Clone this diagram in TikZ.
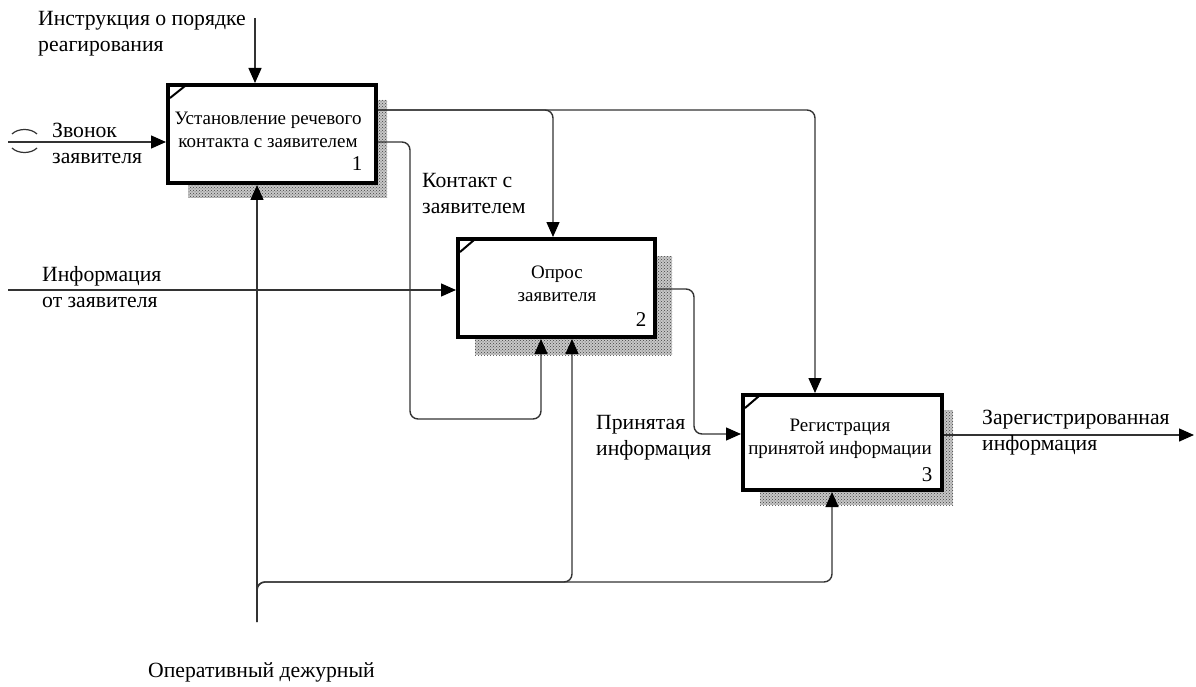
\documentclass[tikz,border=0pt]{standalone}
\usepackage{fontspec}
\setmainfont{Liberation Serif}
\usetikzlibrary{arrows.meta,patterns}
\begin{document}
\begin{tikzpicture}[x=1pt,y=-1pt,
  flow/.style={draw=black!80, line width=1.4pt, rounded corners=8pt},
  arr/.style={-{Triangle[length=15pt,width=13pt,color=black]}},
  act/.style={draw=black, line width=4pt, fill=white, inner sep=0pt},
  shade/.style={fill=black!22, postaction={pattern=crosshatch dots, pattern color=black!75}},
  lbl/.style={font=\fontsize{21.7}{26}\selectfont, align=left, anchor=west, inner sep=0pt},
  boxtxt/.style={font=\fontsize{19}{22.5}\selectfont, align=center, inner sep=0pt},
  num/.style={font=\fontsize{21}{24}\selectfont, inner sep=0pt}]
\useasboundingbox (0,0) rectangle (1196,687);

% drop shadows of the activity boxes
\path[shade] (188,100) rectangle (387,198);
\path[shade] (475,256) rectangle (672,355);
\path[shade] (760,410) rectangle (953,505);

% activity boxes
\node[act, minimum width=208pt, minimum height=98pt] (b1) at (272,134) {};
\node[act, minimum width=197pt, minimum height=98pt] (b2) at (556.5,288) {};
\node[act, minimum width=199pt, minimum height=95pt] (b3) at (842.5,442.5) {};

% corner ticks
\draw[line width=2pt] (170,98) -- (185,86);
\draw[line width=2pt] (460,252) -- (474,240);
\draw[line width=2pt] (745,408) -- (759,396);

% box captions and numbers
\node[boxtxt] (t1) at (268,130) {Установление речевого\\контакта с заявителем};
\node[boxtxt] (t2) at (557,284) {Опрос\\заявителя};
\node[boxtxt] (t3) at (840,439) {Регистрация\\принятой информации};
\node[num] (n1) at (357,164) {1};
\node[num] (n2) at (641,320) {2};
\node[num] (n3) at (927,475) {3};

% connector end points and bends
\coordinate (ctl) at (255,18);
\coordinate (src1) at (8,142);
\coordinate (src2) at (8,290);
\coordinate (snk) at (1194,435);
\coordinate (mech) at (257,622);
\coordinate (br) at (257,582);
\coordinate (j1) at (553,110);
\coordinate (j2) at (815,110);
\coordinate (k2) at (410,142);
\coordinate (k3) at (541,419);
\coordinate (m1) at (694,289);
\coordinate (m2) at (694,434);
\coordinate (p2) at (572,582);
\coordinate (p3) at (832,582);

% control
\draw[flow,arr] (ctl) -- (ctl |- b1.north);
% inputs
\draw[flow,arr] (src1) -- (b1.west |- src1);
\draw[flow,arr] (src2) -- (b2.west |- src2);
% outputs of box 1
\draw[flow,arr] (b1.east |- j1) -- (j1) -- (j1 |- b2.north);
\draw[flow,arr] (b1.east |- j1) -- (j2) -- (j2 |- b3.north);
\draw[flow,arr] (b1.east |- k2) -- (k2) -- (k2 |- k3) -- (k3) -- (k3 |- b2.south);
% output of box 2
\draw[flow,arr] (b2.east |- m1) -- (m1) -- (m2) -- (b3.west |- m2);
% output of box 3
\draw[flow,arr] (b3.east |- snk) -- (snk);
% mechanism
\draw[flow,arr] (mech) -- (mech |- b1.south);
\draw[flow,arr] (mech) -- (br) -- (p2) -- (p2 |- b2.south);
\draw[flow,arr] (mech) -- (br) -- (p3) -- (p3 |- b3.south);

% tunnel mark on the call input
\draw[black!80, line width=1.2pt] (12,134) .. controls (18,128) and (31,128) .. (37,134);
\draw[black!80, line width=1.2pt] (12,148) .. controls (18,154) and (31,154) .. (37,148);

% arrow labels
\node[lbl] (l1) at (38,34) {Инструкция о порядке\\реагирования};
\node[lbl] (l2) at (52,143) {Звонок\\заявителя};
\node[lbl] (l3) at (42,287) {Информация\\от заявителя};
\node[lbl] (l4) at (422,194) {Контакт с\\заявителем};
\node[lbl] (l5) at (596,438) {Принятая\\информация};
\node[lbl] (l6) at (982,433) {Зарегистрированная\\информация};
\node[lbl] (l7) at (148,672) {Оперативный дежурный};
\end{tikzpicture}
\end{document}
